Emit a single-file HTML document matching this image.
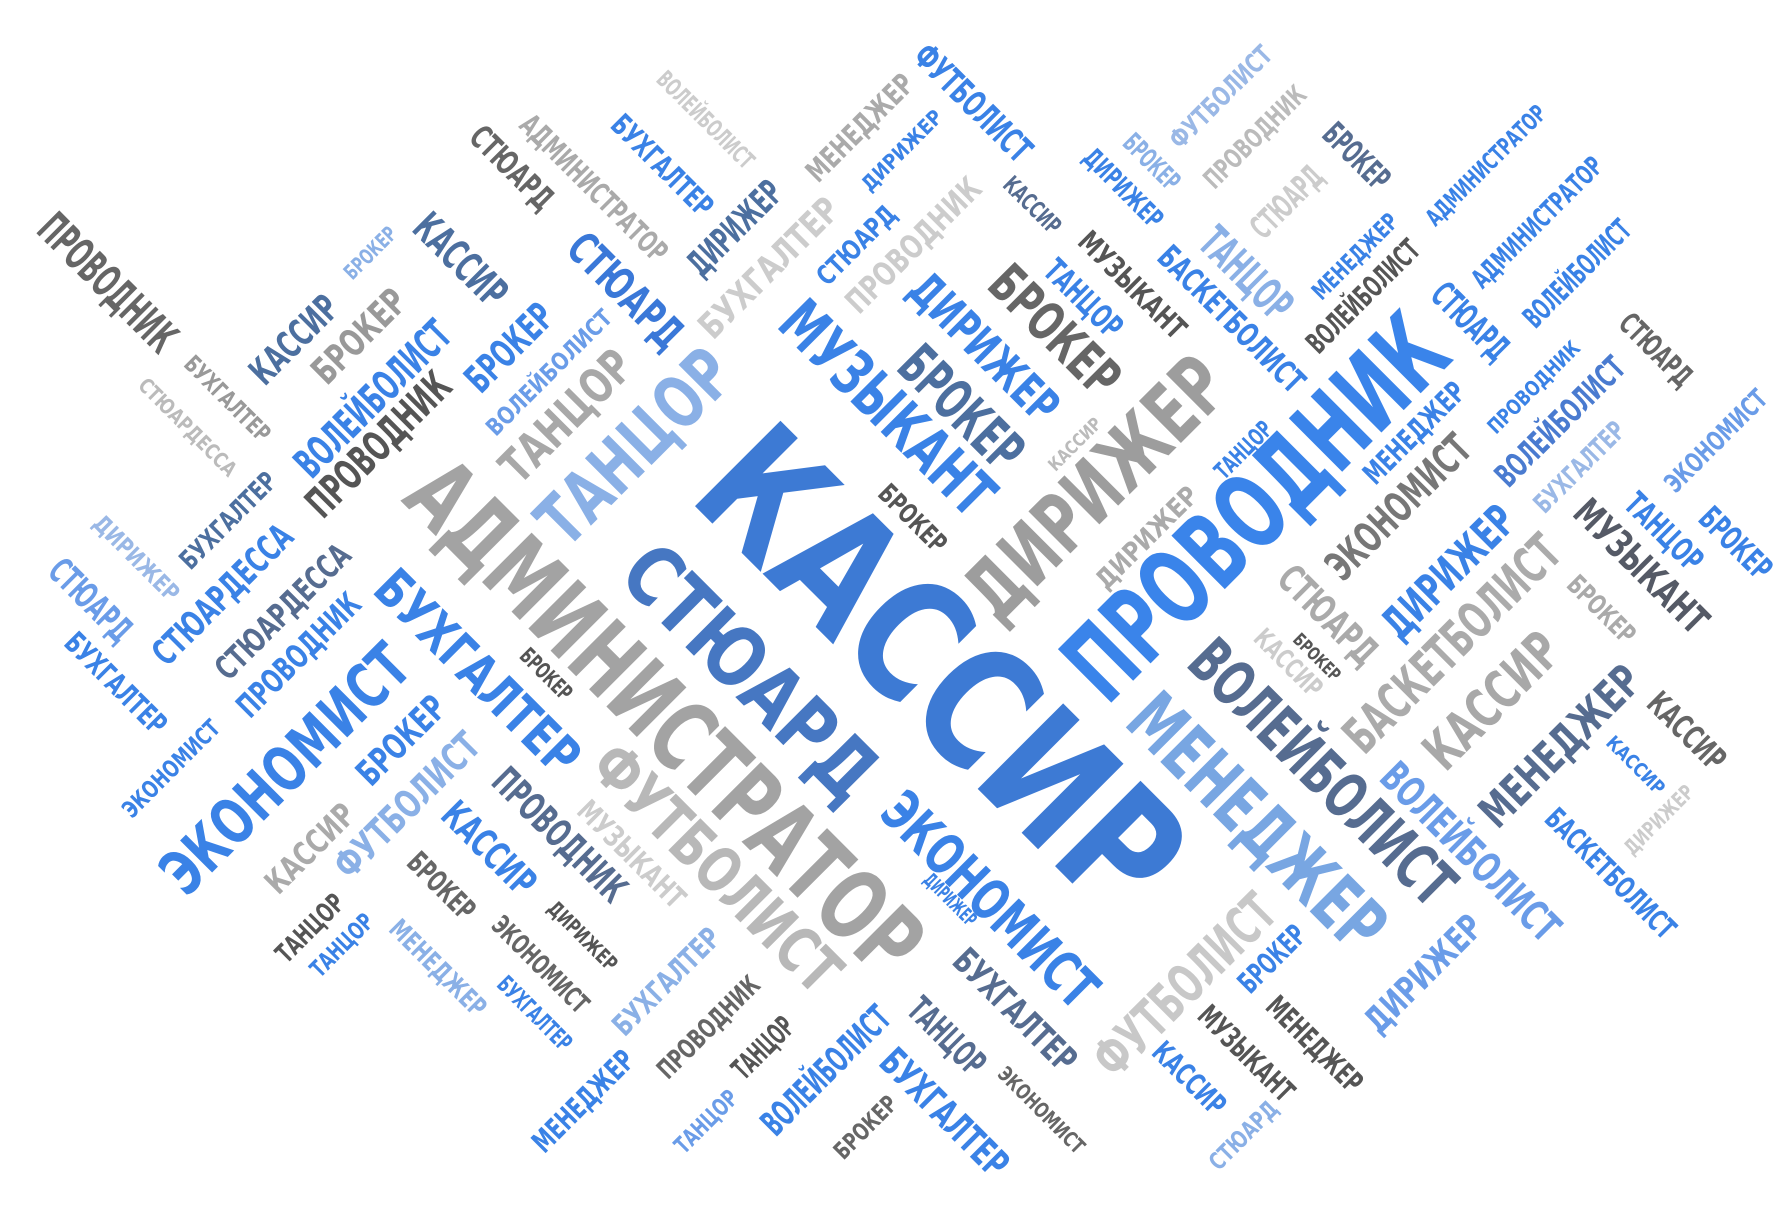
<!DOCTYPE html>
<html><head><meta charset="utf-8">
<style>
html,body{margin:0;padding:0;background:#fff;}
svg{display:block;}
text{font-family:"Liberation Sans Narrow","DejaVu Sans Condensed","Liberation Sans",sans-serif;font-weight:bold;text-transform:uppercase;}
</style></head>
<body>
<svg id="cloud" width="1785" height="1215" viewBox="0 0 1785 1215" xmlns="http://www.w3.org/2000/svg"></svg>
<script>
const words = ["Кассир","Администратор","Стюард","Проводник","Менеджер","Волейболист","Дирижер","Музыкант","Брокер","Дирижер","Брокер","Танцор","Танцор","Футболист","Экономист","Бухгалтер","Экономист","Футболист","Баскетболист","Кассир","Менеджер","Волейболист","Экономист","Дирижер","Музыкант",
"Проводник","Брокер","Кассир","Кассир","Брокер","Бухгалтер","Стюардесса","Волейболист","Брокер","Волейболист","Проводник","Бухгалтер","Дирижер","Стюардесса","Стюардесса","Стюард","Бухгалтер","Проводник","Экономист","Брокер","Брокер","Кассир","Футболист","Брокер","Кассир","Проводник","Музыкант","Танцор","Танцор","Менеджер","Экономист","Дирижер","Бухгалтер","Бухгалтер","Проводник","Менеджер","Танцор","Танцор","Волейболист","Брокер","Бухгалтер","Танцор","Экономист","Бухгалтер","Дирижер","Стюард","Кассир","Музыкант","Менеджер","Брокер","Дирижер","Баскетболист","Дирижер","Кассир","Кассир","Брокер","Танцор","Брокер","Экономист","Стюард","Бухгалтер","Волейболист","Проводник","Менеджер","Стюард","Волейболист","Администратор","Администратор","Менеджер","Волейболист","Брокер","Стюард","Танцор","Баскетболист","Проводник","Футболист","Брокер","Дирижер","Музыкант","Танцор","Кассир","Футболист","Проводник","Стюард","Дирижер","Менеджер","Бухгалтер","Дирижер","Бухгалтер","Волейболист","Администратор","Стюард","Стюард","Дирижер","Танцор","Кассир","Брокер","Стюард","Кассир","Брокер"];
const cxs = [828,585,660,1102,1105,1162,962,780,845,865,927,557,497,630,870,420,250,1040,1275,1310,1370,1292,1228,1272,1442,
95,325,405,258,315,200,165,327,447,482,332,200,120,195,248,80,102,262,150,352,480,272,357,388,430,492,555,272,300,385,475,512,470,585,622,512,620,670,725,760,830,832,915,892,835,1092,1045,1095,1155,1117,1250,1415,1457,1437,1482,1407,1462,1525,1507,1455,1387,1370,1347,1242,1292,1385,1350,1305,1190,1197,1192,1130,1095,1082,1102,1072,1012,987,995,952,907,855,802,752,792,755,675,645,582,620,522,450,550,1007,1092,944,802,1167,1132,1157];
const cys = [588,630,590,445,722,678,428,358,358,305,290,392,365,762,790,590,675,865,565,615,655,748,445,502,497,
248,222,228,298,295,350,375,350,305,327,390,457,490,522,537,527,600,575,675,650,592,745,707,778,745,733,750,815,830,850,847,822,890,862,902,967,985,920,940,990,977,910,975,887,790,997,947,925,917,842,855,767,720,672,642,535,467,477,387,307,410,370,340,380,282,240,195,145,225,260,137,177,240,280,120,85,142,165,250,262,180,90,215,215,132,112,235,200,145,105,165,147,255,472,395,390,455,540,582,577];
const dxs = [455,470,240,355,240,245,245,200,120,140,125,185,125,230,200,190,230,170,200,130,150,165,135,125,125,
130,50,90,85,90,80,90,145,85,115,135,90,80,130,125,80,95,115,90,85,50,85,135,65,90,125,100,65,60,90,90,65,70,100,95,95,60,60,120,60,120,75,80,115,50,65,70,90,90,65,110,120,65,55,75,65,75,70,95,70,85,120,85,95,75,100,120,110,80,105,65,70,90,135,95,95,55,75,100,75,55,110,125,75,75,100,130,90,95,90,135,80,110,95,55,50,65,95,65,45];
const ths = [112,65,55,70,50,42,55,42,38,32,36,48,32,42,38,36,42,36,34,36,30,28,28,30,26,
30,14,28,25,25,16,14,28,26,16,28,18,16,24,22,24,20,22,16,24,15,22,26,20,26,26,20,18,16,18,18,14,16,20,18,20,16,20,24,16,26,24,14,24,13,16,20,20,20,20,24,20,14,13,22,18,22,22,18,20,18,22,14,20,24,20,18,16,16,20,22,22,30,22,18,18,18,18,20,22,16,24,22,18,14,20,24,24,20,16,20,22,30,18,16,12,18,26,18,12];
const angles = [45,45,45,-45,45,45,-45,45,45,45,45,-45,-45,45,45,45,-45,-45,-45,-45,-45,45,-45,-45,45,
45,-45,45,-45,-45,45,45,-45,-45,-45,-45,-45,45,-45,-45,45,45,-45,-45,-45,45,-45,-45,45,45,45,45,-45,-45,45,45,45,45,-45,-45,-45,-45,-45,-45,-45,45,45,45,45,45,-45,45,45,45,-45,-45,45,-45,45,45,45,45,45,-45,45,-45,-45,-45,-45,45,-45,-45,-45,-45,-45,45,-45,45,45,-45,-45,45,45,45,45,45,45,-45,-45,-45,-45,-45,-45,45,45,45,45,45,-45,-45,-45,45,45,45,45];
const colors = ["#3d7ad4","#a3a3a3","#4677c2","#3a84ea","#78a6e2","#566c90","#9d9d9d","#3a82e6","#4c6f9f","#3a82e6","#666666","#8ab0e6","#a8a8a8","#b8b8b8","#3a82e6","#3a82e6","#3a82e6","#c8c8c8","#ababab","#a8a8a8","#566c90","#6a9ce8","#777777","#3a82e6","#555a66",
"#666666","#8ab0e6","#4c6f9f","#4c6f9f","#999999","#999999","#bbbbbb","#3a82e6","#3a82e6","#6a9ce8","#555555","#4c6f9f","#9ab8e6","#3a82e6","#566c90","#6a9ce8","#3a82e6","#3a82e6","#3a82e6","#3a82e6","#555555","#aaaaaa","#8ab0e6","#666666","#3a82e6","#566c90","#cccccc","#555555","#3a82e6","#8ab0e6","#666666","#555555","#3a82e6","#8ab0e6","#666666","#3a82e6","#6a9ce8","#555555","#3a82e6","#666666","#3a82e6","#566c90","#666666","#566c90","#3a82e6","#8ab0e6","#3a82e6","#555555","#555555","#3a82e6","#6a9ce8","#3a82e6","#cccccc","#3a82e6","#666666","#aaaaaa","#3a82e6","#3a82e6","#6a9ce8","#666666","#9ab8e6","#4a7bd0","#3a82e6","#3a82e6","#3a82e6","#3a82e6","#3a82e6","#3a82e6","#3a82e6","#555555","#566c90","#cccccc","#8ab0e6","#3a82e6","#bbbbbb","#9ab8e6","#8ab0e6","#3a82e6","#555555","#3a82e6","#566c90","#3a82e6","#cccccc","#3a82e6","#3a82e6","#aaaaaa","#cccccc","#4c6f9f","#3a82e6","#cccccc","#aaaaaa","#666666","#3a78d8","#aaaaaa","#3a82e6","#bbbbbb","#555555","#aaaaaa","#cccccc","#555555"];

const S = 1785/1568;
const svg = document.getElementById('cloud');
const NS = 'http://www.w3.org/2000/svg';
for (let i = 0; i < words.length; i++) {
  const cx = cxs[i]*S, cy = cys[i]*S;
  const t = ths[i]*S;
  const L = Math.max(dxs[i]*S*1.414 - t, t);
  const fs = t*1.3;
  const el = document.createElementNS(NS, 'text');
  
  
  el.setAttribute('x', cx);
  el.setAttribute('y', cy + fs*0.36);
  el.setAttribute('text-anchor', 'middle');
  el.setAttribute('font-size', fs);
  el.setAttribute('textLength', L);
  el.setAttribute('lengthAdjust', 'spacingAndGlyphs');
  el.setAttribute('fill', colors[i]);
  el.setAttribute('transform', 'rotate(' + angles[i] + ' ' + cx + ' ' + cy + ')');
  el.textContent = words[i];
  svg.appendChild(el);
}
</script>
</body></html>
